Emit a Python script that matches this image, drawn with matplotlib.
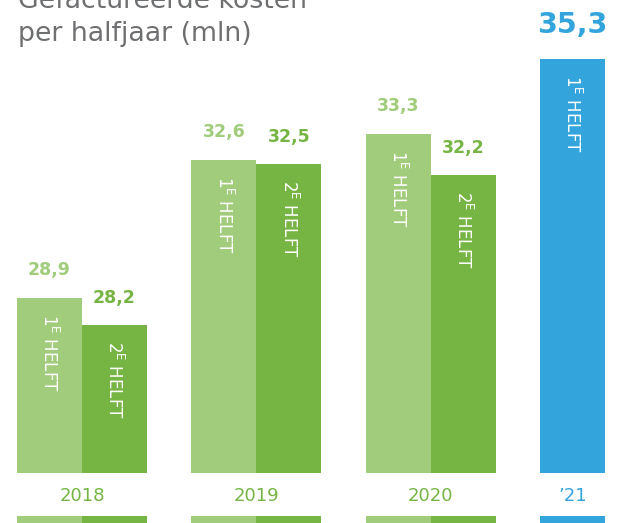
import matplotlib
matplotlib.use("Agg")
import matplotlib.pyplot as plt

years = ["2018", "2019", "2020", "\u201921"]
first_half = [28.9, 32.6, 33.3, 35.3]
second_half = [28.2, 32.5, 32.2, None]
first_labels = ["28,9", "32,6", "33,3", "35,3"]
second_labels = ["28,2", "32,5", "32,2", None]
half_texts = ["1$^{\\mathregular{E}}$ HELFT", "2$^{\\mathregular{E}}$ HELFT"]

c_light = "#a1cc7b"
c_dark = "#76b543"
c_blue = "#33a5dc"
c_title = "#6e6f71"

W, H = 621, 523
fig = plt.figure(figsize=(W / 100, H / 100), dpi=100)

# main axes: pixel rows 0..473
ax = fig.add_axes([0, 1 - 473 / H, 1, 473 / H])
ax.set_xlim(-82 / 174.3, (621 - 82) / 174.3)
ax.set_ylim(24.24, 36.87)
ax.axis("off")

bw = 65 / 174.3
base = 24.24
for i, yr in enumerate(years):
    last = second_half[i] is None
    c1 = c_blue if last else c_light
    x1 = i - bw / 2
    ax.bar(x1, first_half[i] - base, bottom=base, width=bw, color=c1, linewidth=0)
    fs = 20.5 if last else 12.5
    ax.annotate(first_labels[i], (x1, first_half[i]), xytext=(0, 20 if last else 19),
                textcoords="offset pixels", ha="center", va="bottom",
                fontsize=fs, fontweight="bold", color=c1)
    ax.annotate(half_texts[0], (x1, first_half[i]), xytext=(0, -16),
                textcoords="offset pixels", ha="center", va="top",
                rotation=-90, fontsize=12, color="white")
    if not last:
        x2 = i + bw / 2
        ax.bar(x2, second_half[i] - base, bottom=base, width=bw, color=c_dark, linewidth=0)
        ax.annotate(second_labels[i], (x2, second_half[i]), xytext=(0, 18),
                    textcoords="offset pixels", ha="center", va="bottom",
                    fontsize=12.5, fontweight="bold", color=c_dark)
        ax.annotate(half_texts[1], (x2, second_half[i]), xytext=(0, -16),
                    textcoords="offset pixels", ha="center", va="top",
                    rotation=-90, fontsize=12, color="white")

# year labels + bottom strip
ax2 = fig.add_axes([0, 0, 1, 7 / H])
ax2.set_xlim(ax.get_xlim())
ax2.set_ylim(0, 1)
ax2.axis("off")
for i, yr in enumerate(years):
    last = second_half[i] is None
    c1 = c_blue if last else c_light
    ax2.bar(i - bw / 2, 1, width=bw, color=c1, linewidth=0)
    if not last:
        ax2.bar(i + bw / 2, 1, width=bw, color=c_dark, linewidth=0)
    xc = i - bw / 2 if last else i
    fig.text((82 + 174.3 * xc) / W, 1 - 496 / H, yr, ha="center", va="center",
             fontsize=13, color=c_blue if last else c_dark)

# title
fig.text(18 / W, 1 - 8 / H, "Gefactureerde kosten", ha="left", va="baseline",
         fontsize=19.3, color=c_title)
fig.text(18 / W, 1 - 41 / H, "per halfjaar (mln)", ha="left", va="baseline",
         fontsize=19.3, color=c_title)

fig.savefig("out.png", dpi=100)
